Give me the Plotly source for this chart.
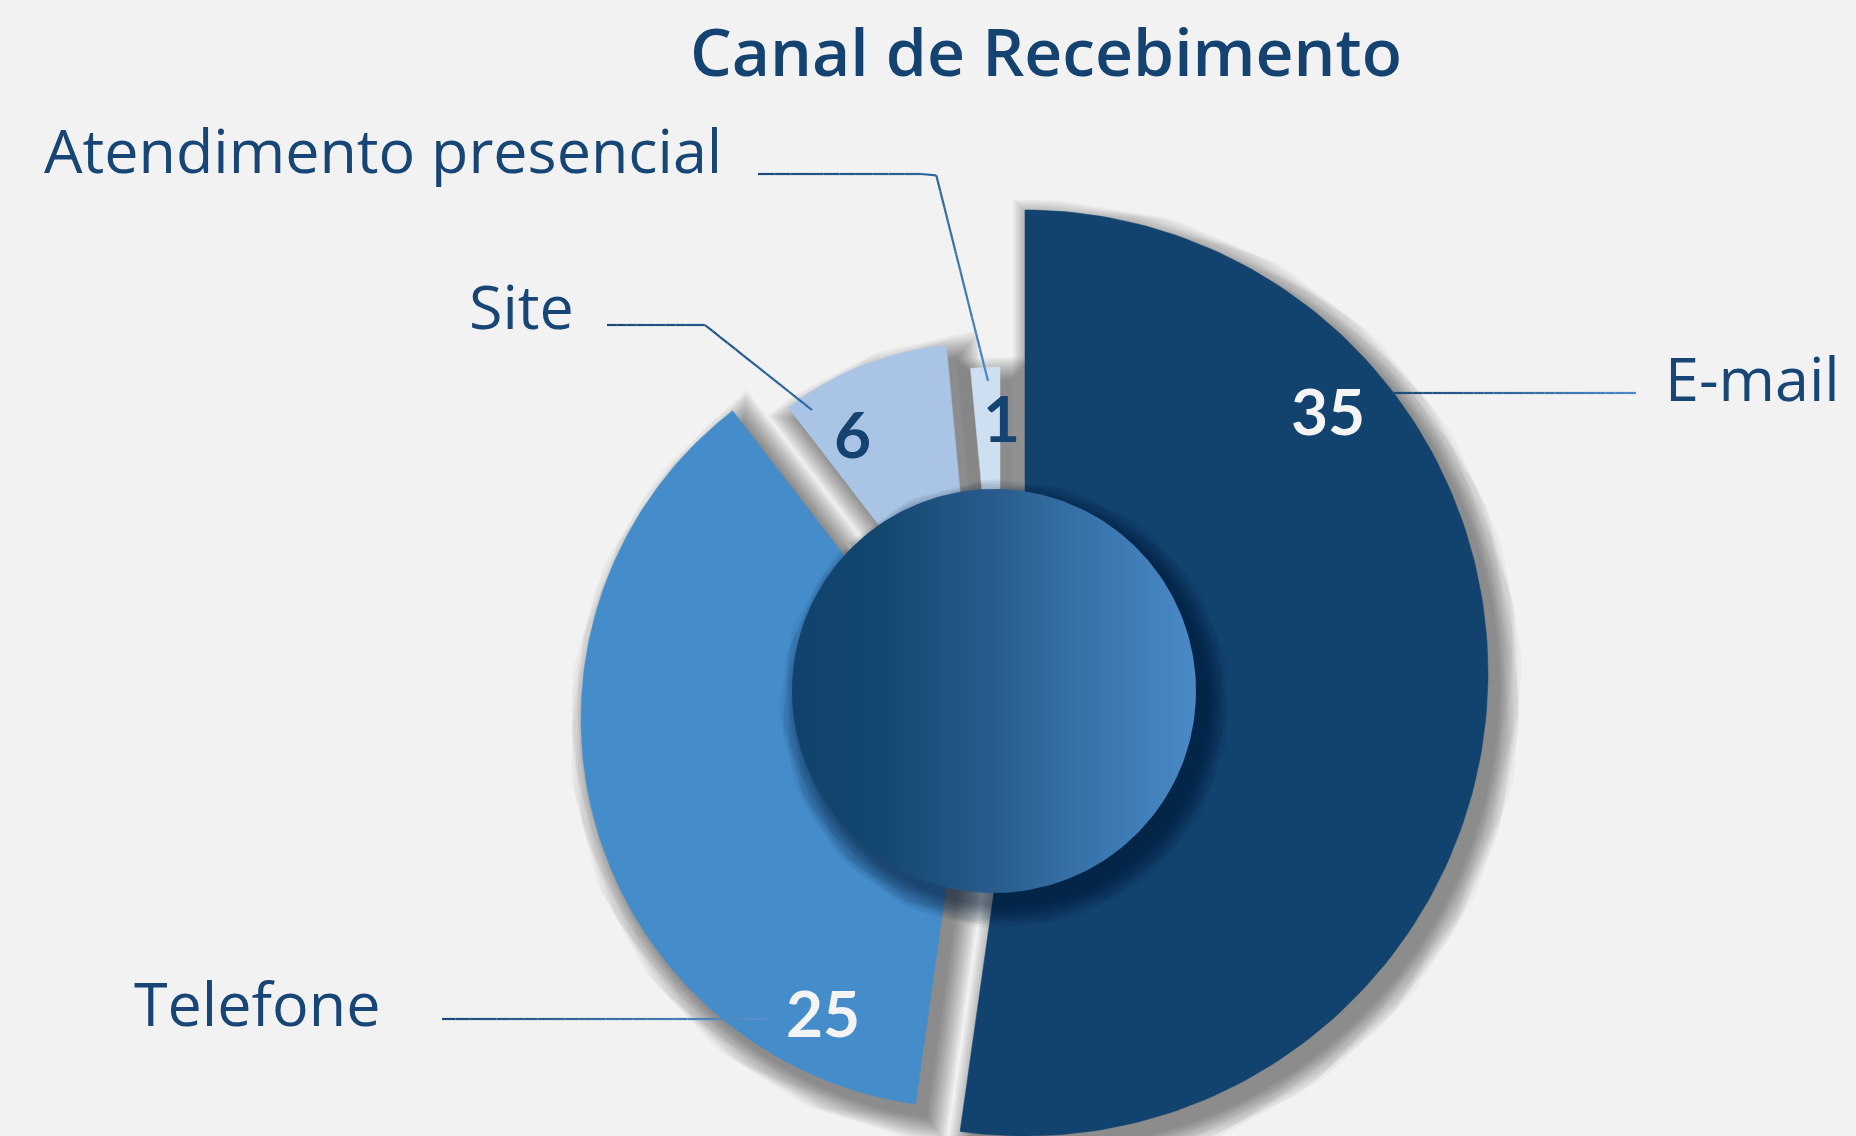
import numpy as np
import plotly.graph_objects as go

# ---------------- data ----------------
categories = ["E-mail", "Telefone", "Site", "Atendimento presencial"]
values = [35, 25, 6, 1]
title_text = "Canal de Recebimento"

# ---------------- style ----------------
W, H = 1856, 1136
BG = "#f1f2f1"
TEXT = "#174676"
slice_colors = ["#12436f", "#448cca", "#a9c4e4", "#cddff0"]
value_colors = ["#f4f4f4", "#f4f4f4", "#154371", "#154371"]
slice_radius = [463, 389, 306, 315]
slice_apex = [(1025, 673), (970, 719), (975, 650), (1000, 682)]
value_pos = [(1328, 410), (823, 1012), (852, 433), (1001, 417)]
label_pos = [(1842, 377), (382, 1002), (576, 305), (724, 149)]
leader_pts = [
    [(1392, 393), (1636, 393)],
    [(442, 1019), (769, 1019)],
    [(607, 325), (705, 325), (812, 410)],
    [(758, 174), (936, 174), (988, 381)],
]
leader_colors = [("#1b4a78", "#4a8ac8"), ("#1b4a78", "#5a92cc"),
                 ("#1b4a78", "#2f6aa6"), ("#1b4a78", "#4a8ac8")]
hub_center = (994, 691)
hub_r = 202
LABEL_FONT = "Open Sans"
NUM_FONT = "Lato"

fig = go.Figure()

total = float(sum(values))
cum = np.concatenate([[0.0], np.cumsum(values)]) / total * 360.0


def wedge(apex, r, a0, a1, n=160):
    ax, ay = apex
    th = np.radians(np.linspace(a0, a1, n))
    xs = np.concatenate([[ax], ax + r * np.sin(th), [ax]])
    ys = np.concatenate([[ay], ay - r * np.cos(th), [ay]])
    return xs, ys


def add_shadow(xs, ys, dx, dy, color, widths, op):
    for w in widths:
        fig.add_trace(go.Scatter(
            x=xs + dx, y=ys + dy, mode="lines", fill="toself",
            fillcolor=color, line=dict(color=color, width=w),
            opacity=op, hoverinfo="skip", showlegend=False))


# slice shadows
for i in range(len(values)):
    xs, ys = wedge(slice_apex[i], slice_radius[i], cum[i], cum[i + 1])
    add_shadow(xs, ys, 11, 13, "#000000", list(range(46, 0, -3)), 0.027)

# slices
for i in range(len(values)):
    xs, ys = wedge(slice_apex[i], slice_radius[i], cum[i], cum[i + 1])
    fig.add_trace(go.Scatter(
        x=xs, y=ys, mode="lines", fill="toself",
        fillcolor=slice_colors[i], line=dict(color=slice_colors[i], width=0.5),
        hoverinfo="skip", showlegend=False, name=categories[i]))

# hub circle shadow + gradient hub
t = np.linspace(1.25 * np.pi, 3.25 * np.pi, 241)
hx = hub_center[0] + hub_r * np.cos(t)
hy = hub_center[1] + hub_r * np.sin(t)
add_shadow(hx, hy, 11, 13, "#001530", list(range(46, 0, -3)), 0.042)
fig.add_trace(go.Scatter(
    x=hx, y=hy, mode="lines", fill="toself",
    fillgradient=dict(type="horizontal",
                      colorscale=[[0, "#11426d"], [0.22, "#13476f"],
                                  [0.5, "#295c8d"], [0.75, "#3975ad"],
                                  [1, "#4a8ac8"]]),
    line=dict(width=0, color="rgba(0,0,0,0)"),
    hoverinfo="skip", showlegend=False))


# leader lines (gradient approximated by sub-segments)
def hex2rgb(h):
    h = h.lstrip("#")
    return [int(h[k:k + 2], 16) for k in (0, 2, 4)]


for pts, (c0, c1) in zip(leader_pts, leader_colors):
    pts = np.array(pts, dtype=float)
    seglen = np.hypot(*np.diff(pts, axis=0).T)
    L = seglen.sum()
    n = 24
    dists = np.linspace(0, L, n + 1)
    cl = np.concatenate([[0], np.cumsum(seglen)])
    px = np.interp(dists, cl, pts[:, 0])
    py = np.interp(dists, cl, pts[:, 1])
    r0, r1 = np.array(hex2rgb(c0)), np.array(hex2rgb(c1))
    for k in range(n):
        f = (k + 0.5) / n
        c = (r0 + (r1 - r0) * f).astype(int)
        fig.add_shape(type="line", x0=px[k], y0=py[k], x1=px[k + 1], y1=py[k + 1],
                      xref="x", yref="y",
                      line=dict(color=f"rgb({c[0]},{c[1]},{c[2]})", width=2.2))

# category labels
for i, cat in enumerate(categories):
    fig.add_annotation(x=label_pos[i][0], y=label_pos[i][1], xref="x", yref="y",
                       text=cat, showarrow=False, xanchor="right", yanchor="middle",
                       font=dict(family=LABEL_FONT, size=61, color=TEXT))

# value labels
for i, v in enumerate(values):
    fig.add_annotation(x=value_pos[i][0], y=value_pos[i][1], xref="x", yref="y",
                       text=str(v), showarrow=False, xanchor="center", yanchor="middle",
                       font=dict(family=NUM_FONT, size=64, color=value_colors[i], weight="bold"))

# title
fig.add_annotation(x=1046, y=50, xref="x", yref="y", text=title_text, showarrow=False,
                   xanchor="center", yanchor="middle",
                   font=dict(family=LABEL_FONT, size=66, color="#154371", weight=600))

fig.update_layout(
    width=W, height=H, margin=dict(l=0, r=0, t=0, b=0),
    paper_bgcolor=BG, plot_bgcolor=BG, showlegend=False, hovermode=False,
    xaxis=dict(range=[0, W], visible=False, fixedrange=True),
    yaxis=dict(range=[H, 0], visible=False, fixedrange=True),
)

fig.write_html("out.html", config={"displayModeBar": False},
               post_script="document.body.style.margin='0';document.body.style.overflow='hidden';")
